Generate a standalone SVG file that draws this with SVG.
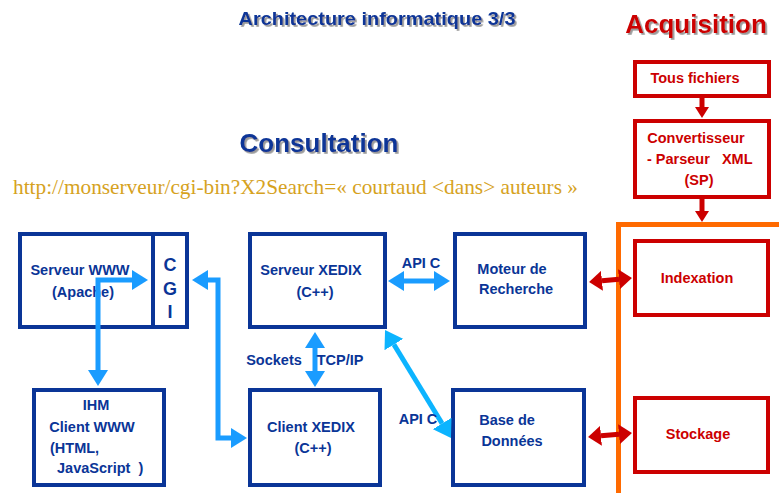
<svg xmlns="http://www.w3.org/2000/svg" width="779" height="493" viewBox="0 0 779 493">
<defs>
<filter id="sh" x="-10%" y="-30%" width="120%" height="160%">
<feDropShadow dx="1.8" dy="1.8" stdDeviation="0.6" flood-color="#808080" flood-opacity="0.8"/>
</filter>
<marker id="hb" viewBox="0 -10 16 20" refX="0" refY="0" markerUnits="userSpaceOnUse" markerWidth="16" markerHeight="20" orient="auto-start-reverse">
<path d="M0,-10 L16,0 L0,10 z" fill="#1a9cff"/>
</marker>
<marker id="hc" viewBox="0 -11 17 22" refX="0" refY="0" markerUnits="userSpaceOnUse" markerWidth="17" markerHeight="22" orient="auto-start-reverse">
<path d="M0,-11 L17,0 L0,11 z" fill="#0cb4ff"/>
</marker>
<marker id="hr" viewBox="0 -10 13 20" refX="0" refY="0" markerUnits="userSpaceOnUse" markerWidth="13" markerHeight="20" orient="auto-start-reverse">
<path d="M0,-10 L13,0 L0,10 z" fill="#cc0000"/>
</marker>
<marker id="hrs" viewBox="0 -7 11 14" refX="0" refY="0" markerUnits="userSpaceOnUse" markerWidth="11" markerHeight="14" orient="auto-start-reverse">
<path d="M0,-7 L11,0 L0,7 z" fill="#cc0000"/>
</marker>
</defs>
<style>
.t{font-family:"Liberation Sans",Arial,sans-serif;font-weight:bold}
.b{fill:#0a3597;font-size:14.5px}
.r{fill:#cc0000;font-size:14.5px}
.cgi{font-size:18px}
.bx{fill:#fff;stroke:#0a3597;stroke-width:4}
.rx{fill:#fff;stroke:#cc0000;stroke-width:4}
.lb{fill:none;stroke:#1a9cff;stroke-width:5}
.lc{fill:none;stroke:#0cb4ff;stroke-width:5}
.lr{fill:none;stroke:#cc0000;stroke-width:5}
</style>
<rect width="779" height="493" fill="#fff"/>

<g id="titles">
<text class="t" x="377" y="25" text-anchor="middle" font-size="19" fill="#0a3597" filter="url(#sh)" textLength="277" lengthAdjust="spacingAndGlyphs">Architecture informatique 3/3</text>
<text class="t" x="696" y="33" text-anchor="middle" font-size="26" fill="#cc0000" filter="url(#sh)">Acquisition</text>
<text class="t" x="319" y="152" text-anchor="middle" font-size="26" fill="#0a3597" filter="url(#sh)">Consultation</text>
<text x="13" y="194" font-family="'Liberation Serif','Times New Roman',serif" font-size="21" fill="#d6a21e" textLength="565" lengthAdjust="spacingAndGlyphs">http://monserveur/cgi-bin?X2Search=« courtaud &lt;dans&gt; auteurs »</text>
</g>

<g id="orange-frame">
<rect x="618.5" y="224.5" width="200" height="300" fill="none" stroke="#ff6a00" stroke-width="5"/>
</g>

<g id="serveur-www">
<rect class="bx" x="20" y="234" width="167" height="93"/>
<line x1="153" y1="234" x2="153" y2="327" stroke="#0a3597" stroke-width="4"/>
<text class="t b" x="80" y="275" text-anchor="middle">Serveur WWW</text>
<text class="t b" x="83" y="297" text-anchor="middle">(Apache)</text>
<text class="t b cgi" x="170" y="271" text-anchor="middle">C</text>
<text class="t b cgi" x="170" y="295" text-anchor="middle">G</text>
<text class="t b cgi" x="170" y="318" text-anchor="middle">I</text>
</g>

<g id="serveur-xedix">
<rect class="bx" x="250" y="234" width="135" height="93"/>
<text class="t b" x="311" y="275" text-anchor="middle">Serveur XEDIX</text>
<text class="t b" x="315" y="297" text-anchor="middle">(C++)</text>
</g>

<g id="ihm">
<rect class="bx" x="34" y="390" width="130" height="95"/>
<text class="t b" x="96" y="410" text-anchor="middle">IHM</text>
<text class="t b" x="92" y="432" text-anchor="middle">Client WWW</text>
<text class="t b" x="50" y="453">(HTML,</text>
<text class="t b" x="57" y="473" xml:space="preserve">JavaScript  )</text>
</g>

<g id="client-xedix">
<rect class="bx" x="250" y="390" width="130" height="95"/>
<text class="t b" x="311" y="432" text-anchor="middle">Client XEDIX</text>
<text class="t b" x="313" y="453" text-anchor="middle">(C++)</text>
</g>

<g id="moteur">
<rect class="bx" x="455" y="234" width="130" height="93"/>
<text class="t b" x="512" y="274" text-anchor="middle">Moteur de</text>
<text class="t b" x="516" y="294" text-anchor="middle">Recherche</text>
</g>

<g id="base">
<rect class="bx" x="453" y="390" width="131" height="95"/>
<text class="t b" x="507" y="425" text-anchor="middle">Base de</text>
<text class="t b" x="512" y="446" text-anchor="middle">Données</text>
</g>

<g id="tous-fichiers">
<rect class="rx" x="635" y="62" width="134" height="34"/>
<text class="t r" x="695" y="83" text-anchor="middle">Tous fichiers</text>
</g>

<g id="convertisseur">
<rect class="rx" x="635" y="121" width="134" height="76"/>
<text class="t r" x="696" y="143" text-anchor="middle">Convertisseur</text>
<text class="t r" x="647" y="164" xml:space="preserve">- Parseur   XML</text>
<text class="t r" x="699" y="185" text-anchor="middle">(SP)</text>
</g>

<g id="indexation">
<rect class="rx" x="635" y="241" width="133" height="74"/>
<text class="t r" x="697" y="283" text-anchor="middle">Indexation</text>
</g>

<g id="stockage">
<rect class="rx" x="635" y="398" width="133" height="74"/>
<text class="t r" x="698" y="439" text-anchor="middle">Stockage</text>
</g>

<g id="connectors">
<path class="lb" d="M98,370 L98,280 L132,280" marker-start="url(#hb)" marker-end="url(#hb)"/>
<path class="lb" d="M208,280 L218,280 L218,438 L231,438" marker-start="url(#hb)" marker-end="url(#hb)"/>
<line class="lb" x1="315" y1="348" x2="315" y2="371" marker-start="url(#hb)" marker-end="url(#hb)"/>
<line class="lb" x1="404" y1="281" x2="434" y2="281" marker-start="url(#hb)" marker-end="url(#hb)"/>
<line class="lc" x1="393.9" y1="344.5" x2="442.1" y2="423.5" marker-start="url(#hc)" marker-end="url(#hc)"/>
<line class="lr" x1="602" y1="280.8" x2="619" y2="279.2" marker-start="url(#hr)" marker-end="url(#hr)"/>
<line class="lr" x1="601" y1="435.8" x2="619" y2="434.2" marker-start="url(#hr)" marker-end="url(#hr)"/>
<line class="lr" x1="702" y1="98" x2="702" y2="107" stroke-width="4" marker-end="url(#hrs)"/>
<line class="lr" x1="702" y1="199" x2="702" y2="211" stroke-width="4" marker-end="url(#hrs)"/>
<text class="t b" x="421" y="268" text-anchor="middle">API C</text>
<text class="t b" x="418" y="424" text-anchor="middle">API C</text>
<text class="t b" x="274" y="365" text-anchor="middle">Sockets</text>
<text class="t b" x="340" y="365" text-anchor="middle">TCP/IP</text>
</g>
</svg>
